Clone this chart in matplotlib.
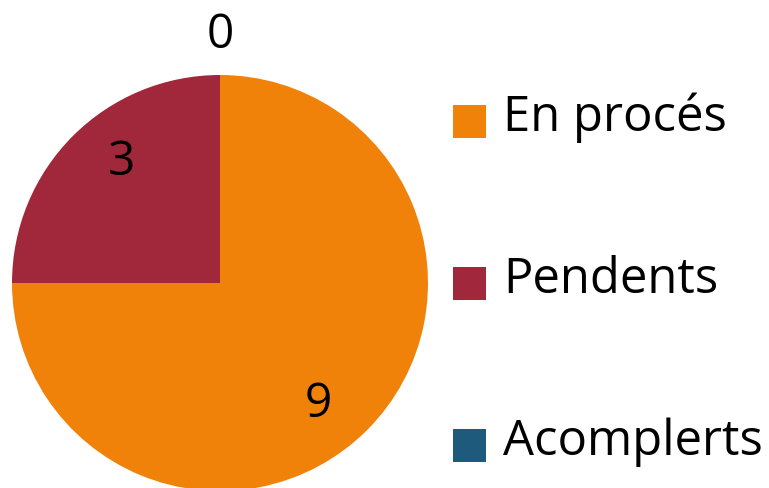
import matplotlib
matplotlib.use("Agg")
import matplotlib.pyplot as plt
import numpy as np
from matplotlib.patches import Rectangle

categories = ["En procés", "Pendents", "Acomplerts"]
values = [9, 3, 0]
colors = ["#F0820A", "#A1283B", "#1D5A7C"]

W, H = 769, 488
plt.rcParams['font.family'] = ['Open Sans', 'DejaVu Sans']
fig = plt.figure(figsize=(W / 100, H / 100), dpi=100)

# pie axes: center (220, 283) px, radius 208 px (from top)
cx, cy, r = 220, 283, 208
ax = fig.add_axes([(cx - r) / W, (H - cy - r) / H, 2 * r / W, 2 * r / H])
wedges, _ = ax.pie(values, colors=colors, startangle=90, counterclock=False,
                   radius=1, wedgeprops=dict(linewidth=0))
ax.set_xlim(-1, 1)
ax.set_ylim(-1, 1)
ax.set_aspect('equal')
ax.axis('off')
for w in wedges:
    w.set_clip_on(False)

fs = 34.5
for w, v in zip(wedges, values):
    mid = np.deg2rad((w.theta1 + w.theta2) / 2 - 6)
    if v == 0:
        mid = np.deg2rad(w.theta1)
        d = 1.19
    else:
        d = 0.75
    ax.text(d * np.cos(mid), d * np.sin(mid), str(v), ha='center', va='center',
            fontsize=fs, color='black', clip_on=False)

# legend
sq = 33
for i, (lab, c) in enumerate(zip(categories, colors)):
    top = 105 + 162 * i
    fig.patches.append(Rectangle((453 / W, (H - top - sq) / H), sq / W, sq / H,
                                 transform=fig.transFigure, color=c, lw=0))
    base = 131 + 162 * i
    fig.text(503 / W, (H - base) / H, lab, fontsize=35.3, ha='left', va='baseline',
             color='black')

fig.savefig("out.png", dpi=100)
